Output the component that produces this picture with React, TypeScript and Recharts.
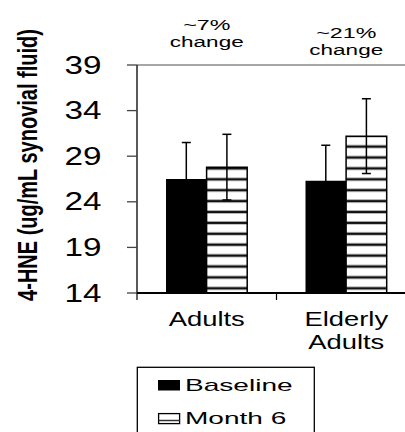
import React from "react";
import { BarChart, Bar, XAxis, YAxis, ErrorBar, ReferenceLine } from "recharts";

// values
const groups = ["Adults", "Elderly Adults"];
const baseline = [26.5, 26.3];
const baselineErr = [4.0, 3.9];
const month6 = [27.8, 31.2];
const month6Err = [3.6, 4.1];
const changes = ["~7%", "~21%"];
const yTicks = [14, 19, 24, 29, 34, 39];
const seriesNames = ["Baseline", "Month 6"];

const data = groups.map((g, i) => ({
  group: g,
  baseline: baseline[i],
  baselineErr: baselineErr[i],
  month6: month6[i],
  month6Err: month6Err[i],
}));

const FONT = "'Liberation Sans', Arial, Helvetica, sans-serif";

// the source picture is stretched sideways, so text gets a horizontal scale
function Stretch({ x, y, sx, size, anchor = "middle", bold = false, children }: any) {
  return (
    <text
      transform={`translate(${x},${y}) scale(${sx},1)`}
      textAnchor={anchor}
      fontSize={size}
      fontFamily={FONT}
      fontWeight={bold ? "bold" : "normal"}
      fill="#000"
    >
      {children}
    </text>
  );
}

const YTick = ({ x, y, payload }: any) => (
  <Stretch x={x} y={y + 8.5} sx={1.33} size={25} anchor="end">
    {payload.value}
  </Stretch>
);

const CatTick = ({ x, y, payload, index }: any) => {
  const lines = String(payload.value).split(" ");
  const half = payload.offset ?? 0;
  return (
    <g>
      {lines.map((l, k) => (
        <Stretch key={k} x={x} y={y + 33 + k * 23} sx={1.37} size={20}>
          {l}
        </Stretch>
      ))}
      <line x1={x + half} x2={x + half} y1={y} y2={y + 7} stroke="#000" strokeWidth={1.2} />
      {index === 0 && (
        <line x1={x - half} x2={x - half} y1={y} y2={y + 7} stroke="#000" strokeWidth={1.2} />
      )}
    </g>
  );
};

const shift = [0, 7.5];
const ChangeTick = ({ x, y, index }: any) => (
  <g>
    <Stretch x={x} y={y - 35 + shift[index]} sx={1.55} size={15}>
      {changes[index]}
    </Stretch>
    <Stretch x={x} y={y - 18 + shift[index]} sx={1.5} size={15}>
      change
    </Stretch>
  </g>
);

export default function App() {
  return (
    <div
      style={{
        position: "absolute",
        left: 0,
        top: 0,
        width: 405,
        height: 432,
        overflow: "hidden",
        background: "#fff",
      }}
    >
      <BarChart
        width={420}
        height={432}
        data={data}
        margin={{ top: 0, right: 4, bottom: 79, left: 0 }}
        barGap={0}
        barSize={40.6}
      >
        <defs>
          <pattern id="hstripe" patternUnits="userSpaceOnUse" width={10} height={10.9}>
            <rect x={0} y={0} width={10} height={10.9} fill="#fff" />
            <rect x={0} y={3.6} width={10} height={2.6} fill="#111" />
          </pattern>
        </defs>
        <XAxis
          xAxisId="top"
          orientation="top"
          dataKey="group"
          height={65}
          axisLine={false}
          tickLine={false}
          tickSize={0}
          tickMargin={0}
          tick={<ChangeTick />}
        />
        <XAxis
          dataKey="group"
          height={60}
          axisLine={{ stroke: "#000", strokeWidth: 2 }}
          tickLine={false}
          tickSize={0}
          tickMargin={0}
          tick={<CatTick />}
        />
        <YAxis
          width={137}
          domain={[14, 39]}
          ticks={yTicks}
          interval={0}
          axisLine={{ stroke: "#000", strokeWidth: 1.3 }}
          tickLine={{ stroke: "#444", strokeWidth: 1.3 }}
          tickSize={10}
          tickMargin={25.5}
          tick={<YTick />}
        />
        <ReferenceLine y={39} stroke="#888" strokeWidth={1.5} />
        <Bar dataKey="baseline" name={seriesNames[0]} fill="#000" isAnimationActive={false}>
          <ErrorBar dataKey="baselineErr" width={4.5} stroke="#000" strokeWidth={1.5} direction="y" isAnimationActive={false} />
        </Bar>
        <Bar
          dataKey="month6"
          name={seriesNames[1]}
          fill="url(#hstripe)"
          stroke="#000"
          strokeWidth={1.5}
          isAnimationActive={false}
        >
          <ErrorBar dataKey="month6Err" width={4.5} stroke="#000" strokeWidth={1.5} direction="y" isAnimationActive={false} />
        </Bar>
      </BarChart>

      <svg
        width={405}
        height={432}
        style={{ position: "absolute", left: 0, top: 0, pointerEvents: "none" }}
      >
        <text
          transform="translate(37,165) scale(1.35,1) rotate(-90)"
          textAnchor="middle"
          fontSize={20}
          fontWeight="bold"
          fontFamily={FONT}
          fill="#000"
        >
          4-HNE (ug/mL synovial fluid)
        </text>

        <rect x={137.3} y={367.3} width={177} height={80} fill="#fff" stroke="#000" strokeWidth={1.3} />
        <rect x={158} y={380} width={22} height={10.5} fill="#000" />
        <Stretch x={185} y={390.7} sx={1.65} size={17} anchor="start">
          {seriesNames[0]}
        </Stretch>
        <rect x={158.6} y={413.6} width={21} height={10} fill="#fff" stroke="#000" strokeWidth={1.3} />
        <line x1={158.6} x2={179.6} y1={420.5} y2={420.5} stroke="#333" strokeWidth={1.5} />
        <Stretch x={185} y={424} sx={1.65} size={17} anchor="start">
          {seriesNames[1]}
        </Stretch>
      </svg>
    </div>
  );
}
